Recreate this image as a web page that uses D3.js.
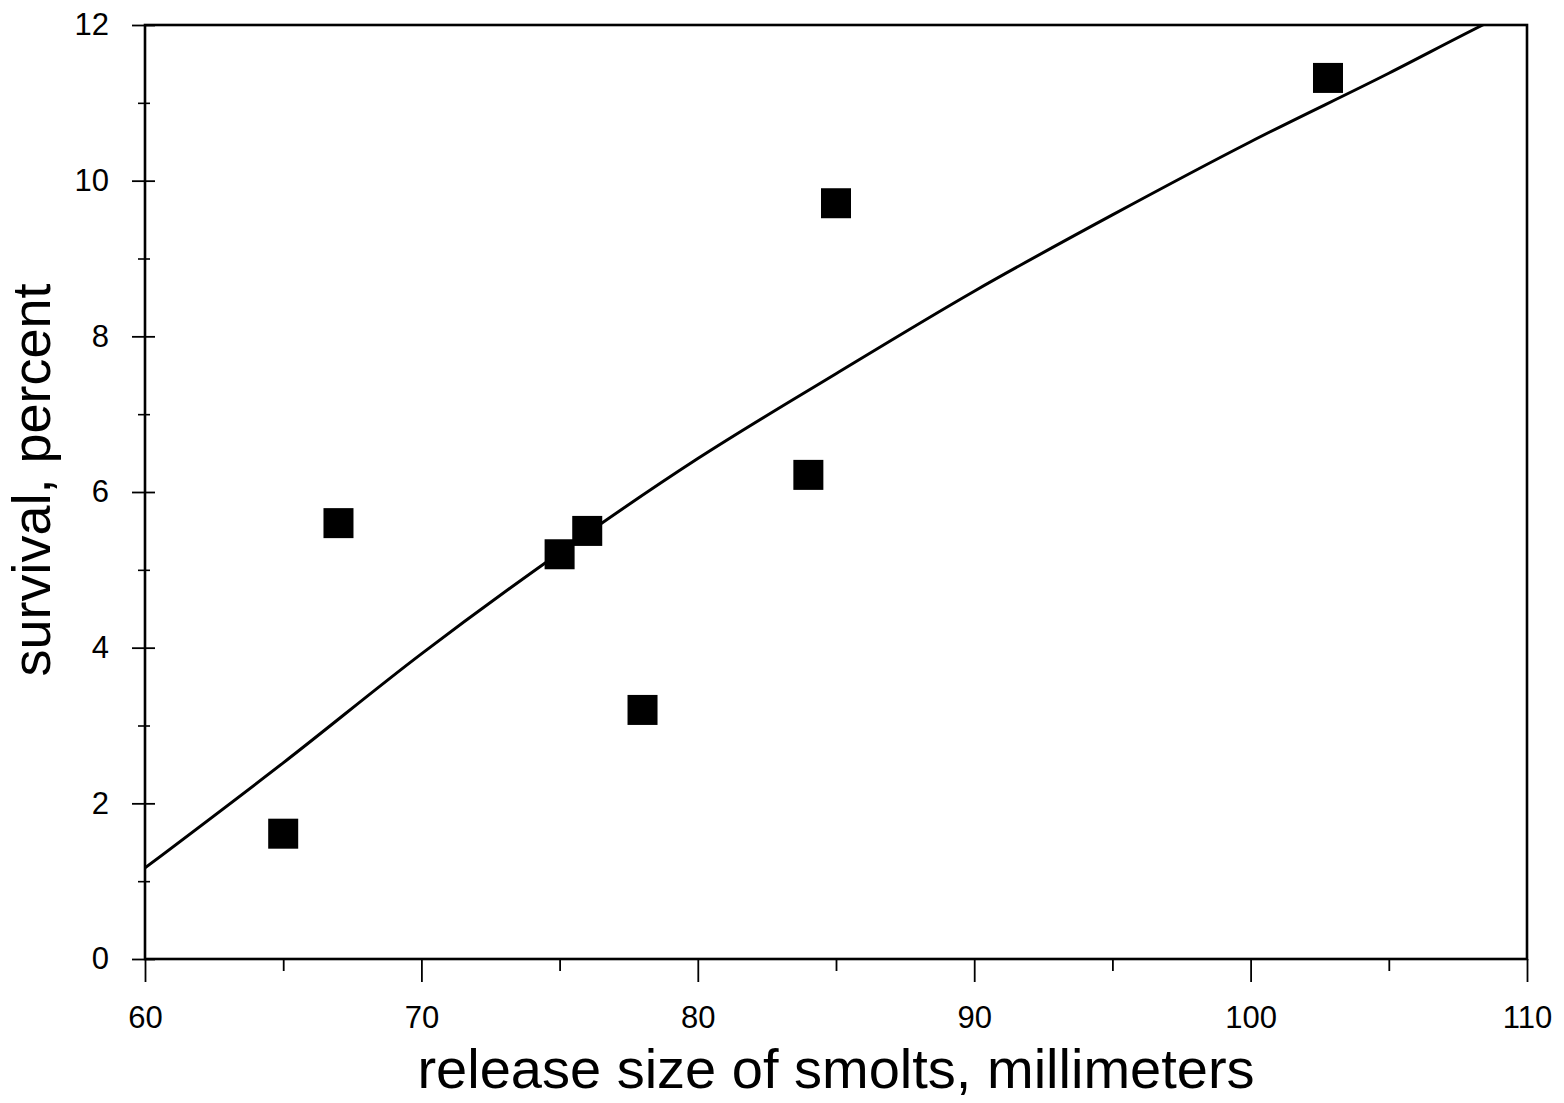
<!DOCTYPE html>
<html>
<head>
<meta charset="utf-8">
<script src="https://cdn.jsdelivr.net/npm/d3@7"></script>
<style>
  html, body { margin: 0; padding: 0; background: #fff; }
  svg { display: block; }
  text { font-family: "Liberation Sans", Arial, Helvetica, sans-serif; fill: #000; }
</style>
</head>
<body>
<svg id="chart" width="1564" height="1103"></svg>
<script>
// ---- data ----
const releaseSize = [65, 67, 75, 76, 78, 84, 85, 102.8];
const survival    = [1.61, 5.6, 5.2, 5.5, 3.2, 6.22, 9.71, 11.32];

const fitX = [60, 65, 70, 75, 80, 85, 90, 95, 100, 105, 108.4, 110];
const fitY = [1.17, 2.52, 3.92, 5.22, 6.43, 7.52, 8.58, 9.56, 10.5, 11.38, 12.0, 12.28];

const xMajorTicks = [60, 70, 80, 90, 100, 110];
const xMinorTicks = [65, 75, 85, 95, 105];
const yMajorTicks = [0, 2, 4, 6, 8, 10, 12];
const yMinorTicks = [1, 3, 5, 7, 9, 11];

const xTitle = "release size of smolts, millimeters";
const yTitle = "survival, percent";

// ---- layout ----
const pLeft = 145, pRight = 1527, pTop = 25, pBottom = 959;

const svg = d3.select("#chart");
const x = d3.scaleLinear().domain([60, 110]).range([pLeft, pRight]);
const y = d3.scaleLinear().domain([0, 12]).range([pBottom, pTop]);

// clip
svg.append("defs").append("clipPath").attr("id", "plotclip")
  .append("rect").attr("x", pLeft).attr("y", pTop)
  .attr("width", pRight - pLeft).attr("height", pBottom - pTop);

// frame
svg.append("rect")
  .attr("x", pLeft).attr("y", pTop)
  .attr("width", pRight - pLeft).attr("height", pBottom - pTop)
  .attr("fill", "none").attr("stroke", "#000").attr("stroke-width", 2.6);

// x axis ticks (outward)
const xAxisMajor = d3.axisBottom(x).tickValues(xMajorTicks).tickSize(23).tickPadding(24).tickFormat(d3.format("d"));
const gxMaj = svg.append("g").attr("transform", `translate(0,${pBottom})`).call(xAxisMajor);
gxMaj.select(".domain").remove();
gxMaj.selectAll("line").attr("stroke", "#000").attr("stroke-width", 1.8);
gxMaj.selectAll("text").attr("font-size", 31).attr("fill", "#000").attr("dy", "0.71em");

const xAxisMinor = d3.axisBottom(x).tickValues(xMinorTicks).tickSize(12).tickFormat("");
const gxMin = svg.append("g").attr("transform", `translate(0,${pBottom})`).call(xAxisMinor);
gxMin.select(".domain").remove();
gxMin.selectAll("line").attr("stroke", "#000").attr("stroke-width", 1.8);

// y axis ticks (crossing)
const yAxisMajor = d3.axisLeft(y).tickValues(yMajorTicks).tickSize(0).tickPadding(36).tickFormat(d3.format("d"));
const gyMaj = svg.append("g").attr("transform", `translate(${pLeft},0)`).call(yAxisMajor);
gyMaj.select(".domain").remove();
gyMaj.selectAll("text").attr("font-size", 31).attr("fill", "#000");
gyMaj.selectAll(".tick").append("line")
  .attr("x1", -13).attr("x2", 10).attr("y1", 0).attr("y2", 0)
  .attr("stroke", "#000").attr("stroke-width", 1.8);

const yAxisMinor = d3.axisLeft(y).tickValues(yMinorTicks).tickSize(0).tickFormat("");
const gyMin = svg.append("g").attr("transform", `translate(${pLeft},0)`).call(yAxisMinor);
gyMin.select(".domain").remove();
gyMin.selectAll(".tick").append("line")
  .attr("x1", -7).attr("x2", 5).attr("y1", 0).attr("y2", 0)
  .attr("stroke", "#000").attr("stroke-width", 1.6);

// fitted curve
const fitData = fitX.map((v, i) => [v, fitY[i]]);
const line = d3.line().x(d => x(d[0])).y(d => y(d[1])).curve(d3.curveMonotoneX);
svg.append("path")
  .datum(fitData)
  .attr("d", line)
  .attr("fill", "none")
  .attr("stroke", "#000")
  .attr("stroke-width", 3)
  .attr("clip-path", "url(#plotclip)");

// squares
const sq = 30;
svg.append("g").selectAll("rect")
  .data(releaseSize.map((v, i) => [v, survival[i]]))
  .join("rect")
  .attr("x", d => x(d[0]) - sq / 2)
  .attr("y", d => y(d[1]) - sq / 2)
  .attr("width", sq).attr("height", sq)
  .attr("fill", "#000");

// axis titles
svg.append("text")
  .attr("x", (pLeft + pRight) / 2)
  .attr("y", 1088)
  .attr("text-anchor", "middle")
  .attr("font-size", 56)
  .text(xTitle);

svg.append("text")
  .attr("transform", "translate(50,480) rotate(-90)")
  .attr("text-anchor", "middle")
  .attr("font-size", 54)
  .text(yTitle);
</script>
</body>
</html>
